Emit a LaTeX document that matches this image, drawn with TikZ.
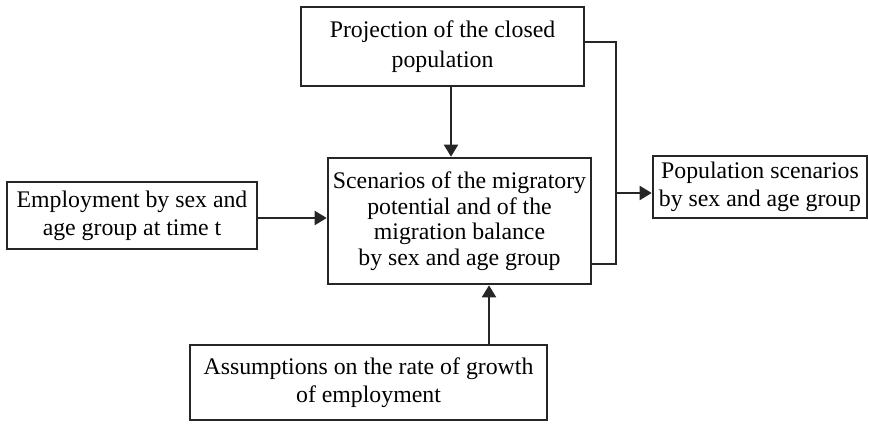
\documentclass[tikz,border=0pt]{standalone}
\usepackage{fontspec}
\setmainfont{Liberation Serif}
\usetikzlibrary{arrows.meta}
\begin{document}
\begin{tikzpicture}[x=1pt,y=-1pt,
  box/.style={draw=black!85, line width=2.6pt, inner sep=0pt, align=center, font=\fontsize{23.8}{28}\selectfont},
  line/.style={draw=black!85, line width=2pt},
  arr/.style={line, -{Triangle[width=14pt,length=12pt]}}]
\useasboundingbox (0,0) rectangle (869,423);
\node[box, minimum width=283pt, minimum height=79pt, font=\fontsize{23.8}{30}\selectfont] (top) at (442.5,46.5) {Projection of the closed\\population};
\node[box, minimum width=263pt, minimum height=126pt, font=\fontsize{23.8}{25.5}\selectfont] (center) at (459.5,221) {Scenarios of the migratory\\potential and of the\\migration balance\\by sex and age group};
\node[box, minimum width=250pt, minimum height=67pt] (left) at (132,215.5) {Employment by sex and\\age group at time t};
\node[box, minimum width=214pt, minimum height=62pt] (right) at (760,187) {Population scenarios\\by sex and age group};
\node[box, minimum width=357pt, minimum height=75pt] (bottom) at (368.5,382.5) {Assumptions on the rate of growth\\of employment};
\coordinate (j1) at (616,42);
\coordinate (j2) at (616,264);
\coordinate (j3) at (616,193);
\draw[arr] ([xshift=8.5pt]top.south) -- ([xshift=8.5pt]top.south |- center.north);
\draw[arr] ([yshift=-2.5pt]left.east) -- ([yshift=-2.5pt]left.east -| center.west);
\draw[arr] ([xshift=120.5pt]bottom.north) -- ([xshift=120.5pt]bottom.north |- center.south);
\draw[line] ([yshift=4.5pt]top.east) -- (j1) -- (j2) -- (j2 -| center.east);
\draw[arr] (j3) -- (j3 -| right.west);
\end{tikzpicture}
\end{document}
